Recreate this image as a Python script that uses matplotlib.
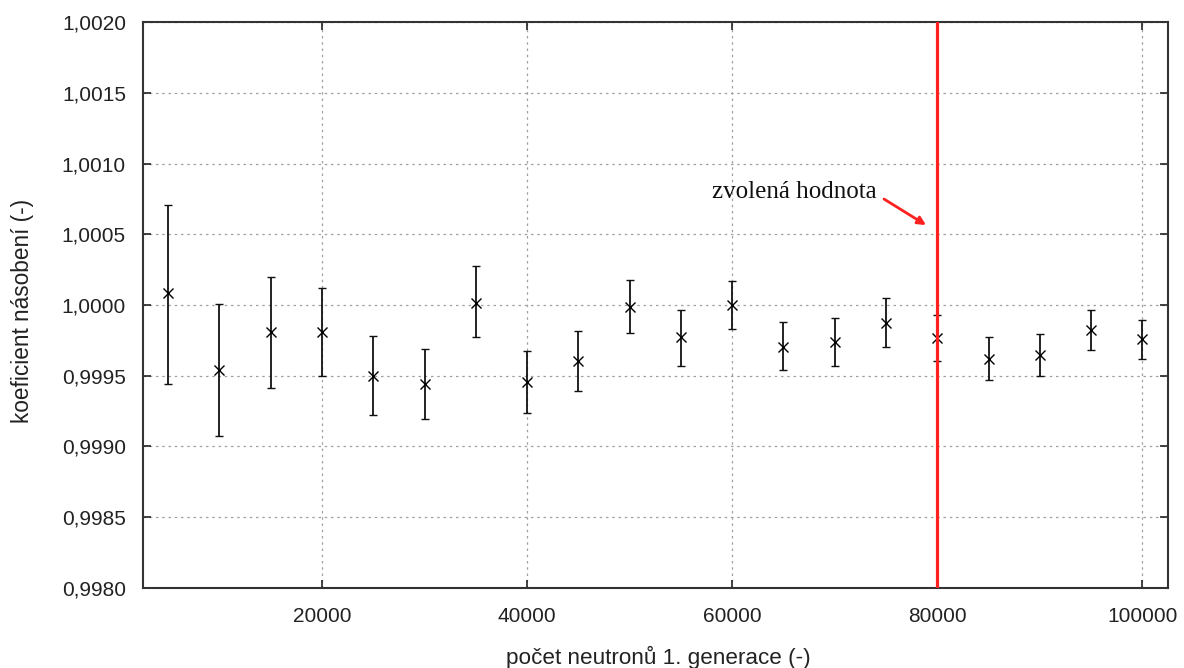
import matplotlib
matplotlib.use("Agg")
import matplotlib.pyplot as plt
from matplotlib.ticker import FuncFormatter, MultipleLocator

# Data
neutrons = [5000, 10000, 15000, 20000, 25000, 30000, 35000, 40000, 45000, 50000,
            55000, 60000, 65000, 70000, 75000, 80000, 85000, 90000, 95000, 100000]
k_eff = [1.000085, 0.999541, 0.999811, 0.999811, 0.999500, 0.999442, 1.000016, 0.999454,
         0.999607, 0.999984, 0.999772, 1.000000, 0.999701, 0.999741, 0.999875, 0.999765,
         0.999618, 0.999647, 0.999823, 0.999758]
k_low = [0.999444, 0.999076, 0.999416, 0.999500, 0.999220, 0.999192, 0.999772, 0.999239,
         0.999394, 0.999802, 0.999569, 0.999828, 0.999541, 0.999569, 0.999703, 0.999607,
         0.999472, 0.999500, 0.999684, 0.999616]
k_high = [1.000707, 1.000005, 1.000198, 1.000118, 0.999779, 0.999691, 1.000276, 0.999677,
          0.999818, 1.000177, 0.999965, 1.000167, 0.999878, 0.999906, 1.000050, 0.999927,
          0.999772, 0.999797, 0.999965, 0.999894]
chosen_value = 80000
chosen_label = "zvolená hodnota"
xlabel = "počet neutronů 1. generace (-)"
ylabel = "koeficient násobení (-)"

plt.rcParams['font.family'] = ['Liberation Sans', 'DejaVu Sans']

fig = plt.figure(figsize=(11.84, 6.68), dpi=100)
ax = fig.add_axes([0.1204, 0.1198, 0.9865 - 0.1204, 0.967 - 0.1198])

yerr = [[y - lo for y, lo in zip(k_eff, k_low)], [hi - y for y, hi in zip(k_eff, k_high)]]
ax.errorbar(neutrons, k_eff, yerr=yerr, fmt='x', color='black', ecolor='#111111',
            markersize=7.5, markeredgewidth=1.0, elinewidth=1.3, capsize=3, capthick=1.3, zorder=3)

ax.axvline(chosen_value, color='#ff2020', linewidth=2.3, zorder=4)

# annotation: label text and red arrow pointing to the chosen value
ax.text(74124, 1.000799, chosen_label, ha='right', va='center', fontsize=18,
        family=['Liberation Serif', 'DejaVu Serif'], color='#111111')
ax.annotate('', xy=(78902, 1.000565), xytext=(74806, 1.000749), textcoords='data',
            arrowprops=dict(arrowstyle='-|>', color='#ff2020', lw=2,
                            mutation_scale=12, shrinkA=0, shrinkB=0))

ax.set_xlim(2500, 102500)
ax.set_ylim(0.9980, 1.0020)
ax.xaxis.set_major_locator(MultipleLocator(20000))
ax.yaxis.set_major_locator(MultipleLocator(0.0005))
ax.yaxis.set_major_formatter(FuncFormatter(lambda v, p: f"{v:.4f}".replace('.', ',')))
ax.xaxis.set_major_formatter(FuncFormatter(lambda v, p: f"{int(round(v))}"))

ax.grid(True, linestyle=(0, (2, 3)), color='#a0a0a0', linewidth=0.9)
ax.set_axisbelow(True)
ax.tick_params(direction='in', length=6, width=1.2, labelsize=15, colors='#222222',
               top=True, right=True, pad=12)
ax.tick_params(axis='x', pad=14)
for s in ax.spines.values():
    s.set_color('#333333')
    s.set_linewidth(1.5)

ax.set_xlabel(xlabel, fontsize=16.2, color='#222222')
ax.set_ylabel(ylabel, fontsize=16.3, color='#222222')
ax.xaxis.set_label_coords(0.503, -0.122)
ax.yaxis.set_label_coords(-0.117, 0.49)
ax.xaxis.label.set_va('center')
ax.yaxis.label.set_va('center')

fig.savefig("out.png", dpi=100)
